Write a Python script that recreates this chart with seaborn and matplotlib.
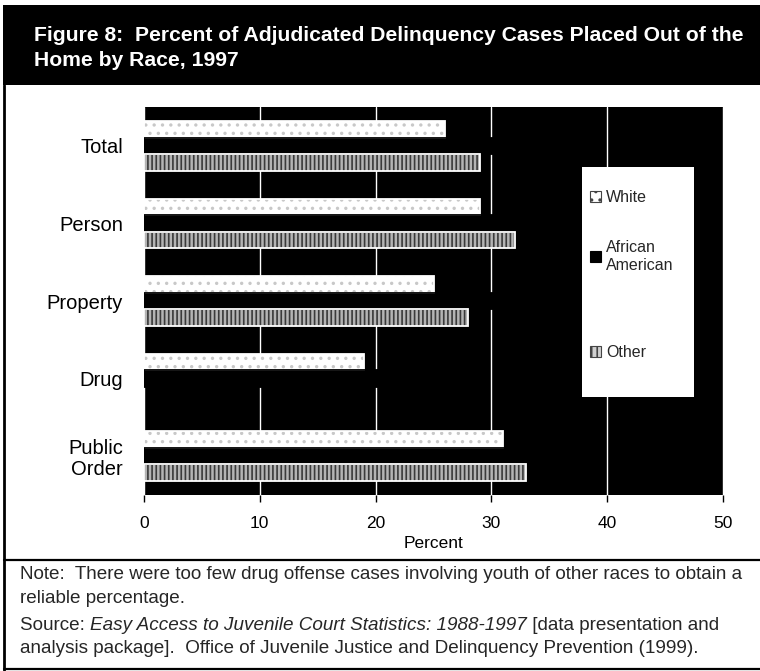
import numpy as np
import pandas as pd
import matplotlib
matplotlib.use("Agg")
import matplotlib.pyplot as plt
from matplotlib.patches import Rectangle, Patch
from matplotlib.lines import Line2D
import seaborn as sns

# Offense categories and placement rates (percent of adjudicated cases)
categories = ["Total", "Person", "Property", "Drug", "Public\nOrder"]
races = ["White", "African American", "Other"]
white = [26, 29, 25, 19, 31]
african_american = [31, 34, 31, 29, 33]
other = [29, 32, 28, np.nan, 33]  # too few drug cases for other races

x_ticks = [0, 10, 20, 30, 40, 50]
title = ("Figure 8:  Percent of Adjudicated Delinquency Cases Placed Out of the\n"
         "Home by Race, 1997")

df = pd.DataFrame({
    "Offense": categories * 3,
    "Race": np.repeat(races, len(categories)),
    "Percent": white + african_american + other,
})

sns.set_theme(style="white")
plt.rcParams["font.family"] = ["Liberation Sans", "DejaVu Sans"]
plt.rcParams["hatch.linewidth"] = 1.2

W, H = 760, 671
fig = plt.figure(figsize=(W / 100, H / 100), dpi=100)
fig.patch.set_facecolor("white")

# Title band
fig.add_artist(Rectangle((3 / W, 1 - 85 / H), 1, 80 / H, transform=fig.transFigure,
                         facecolor="black", edgecolor="none"))
fig.text(34 / W, 1 - 26 / H, title, color="white", fontsize=15.2, fontweight="bold",
         va="top", ha="left", linespacing=1.38)

# Frame lines
fig.add_artist(Line2D([4 / W, 4 / W], [0, 1 - 85 / H], transform=fig.transFigure,
                      color="black", lw=2))
fig.add_artist(Line2D([4 / W, 1], [1 - 560 / H, 1 - 560 / H], transform=fig.transFigure,
                      color="black", lw=1.6))
fig.add_artist(Line2D([4 / W, 1], [1 - 669 / H, 1 - 669 / H], transform=fig.transFigure,
                      color="black", lw=1.6))

ax = fig.add_axes([144 / W, 1 - 495 / H, (723 - 144) / W, (495 - 107) / H])
ax.set_facecolor("black")

sns.barplot(data=df, y="Offense", x="Percent", hue="Race", hue_order=races,
            order=categories, orient="h", palette=["white", "black", "#b0b0b0"],
            width=0.64, errorbar=None, saturation=1, legend=False, ax=ax)

styles = {
    0: dict(face="white", hatch="..", hcolor="#c8c8c8", outline="white"),
    1: dict(face="black", hatch=None, hcolor="black", outline="black"),
    2: dict(face="#b4b4b4", hatch="||||", hcolor="#3a3a3a", outline="white"),
}
for i, cont in enumerate(ax.containers):
    st = styles[i]
    for p in cont:
        p.set_facecolor(st["face"])
        p.set_edgecolor(st["hcolor"])
        p.set_linewidth(0)
        if st["hatch"]:
            p.set_hatch(st["hatch"])
        x0, y0 = p.get_xy()
        w, h = p.get_width(), p.get_height()
        if np.isfinite(w) and w > 0:
            ax.add_patch(Rectangle((x0, y0), w, h, fill=False,
                                   edgecolor=st["outline"], lw=1.3, zorder=p.get_zorder() + 0.1))

ax.set_xlim(0, 50)
ax.set_xticks(x_ticks)
ax.set_xticklabels([str(t) for t in x_ticks])
ax.set_axisbelow(True)
ax.xaxis.grid(True, color="white", lw=1)
ax.yaxis.grid(False)
for s in ax.spines.values():
    s.set_visible(False)
ax.tick_params(axis="x", bottom=True, length=5, width=1, color="black",
               labelsize=12.5, pad=10, labelcolor="black")
ax.tick_params(axis="y", left=False, labelsize=14.5, pad=9, labelcolor="black")
for lab in ax.get_yticklabels():
    lab.set_linespacing(1.1)
ax.set_ylabel("")
ax.set_xlabel("Percent", fontsize=12.5, labelpad=4, color="black")

# Legend panel
ax.add_patch(Rectangle((0.756, 0.253), 0.194, 0.592, transform=ax.transAxes,
                       facecolor="white", edgecolor="none", zorder=5))
h_white = Patch(facecolor="white", edgecolor="#444444", hatch="..", lw=0.8)
h_afam = Patch(facecolor="black", edgecolor="black", lw=0.8)
h_other = Patch(facecolor="#d0d0d0", edgecolor="#444444", hatch="|||", lw=0.8)
leg_kw = dict(loc="upper left", frameon=False, fontsize=11.5, handlelength=0.7,
              handleheight=0.7, handletextpad=0.3, borderaxespad=0, borderpad=0)
leg1 = ax.legend([h_white, h_afam], ["White", "African\nAmerican"],
                 bbox_to_anchor=(0.770, 0.786), labelspacing=2.2, **leg_kw)
leg1.set_zorder(6)
ax.add_artist(leg1)
leg2 = ax.legend([h_other], ["Other"], bbox_to_anchor=(0.770, 0.386), **leg_kw)
leg2.set_zorder(6)

# Notes
fs = 13.6
x0 = 20 / W
fig.text(x0, 1 - 579 / H, "Note:  There were too few drug offense cases involving youth of "
         "other races to obtain a", fontsize=fs, va="baseline")
fig.text(x0, 1 - 603 / H, "reliable percentage.", fontsize=fs, va="baseline")
t1 = fig.text(x0, 1 - 630 / H, "Source: ", fontsize=fs, va="baseline")
t2 = fig.text(0, 0, "Easy Access to Juvenile Court Statistics: 1988-1997", fontsize=fs,
              style="italic", va="baseline")
t3 = fig.text(0, 0, " [data presentation and", fontsize=fs, va="baseline")
fig.text(x0, 1 - 653 / H, "analysis package].  Office of Juvenile Justice and Delinquency "
         "Prevention (1999).", fontsize=fs, va="baseline")

fig.canvas.draw()
r = fig.canvas.get_renderer()
inv = fig.transFigure.inverted()
bx = t1.get_window_extent(r)
t2.set_position((inv.transform((bx.x1, 0))[0], 1 - 630 / H))
fig.canvas.draw()
bx2 = t2.get_window_extent(r)
t3.set_position((inv.transform((bx2.x1, 0))[0], 1 - 630 / H))

fig.savefig("out.png", dpi=100)
